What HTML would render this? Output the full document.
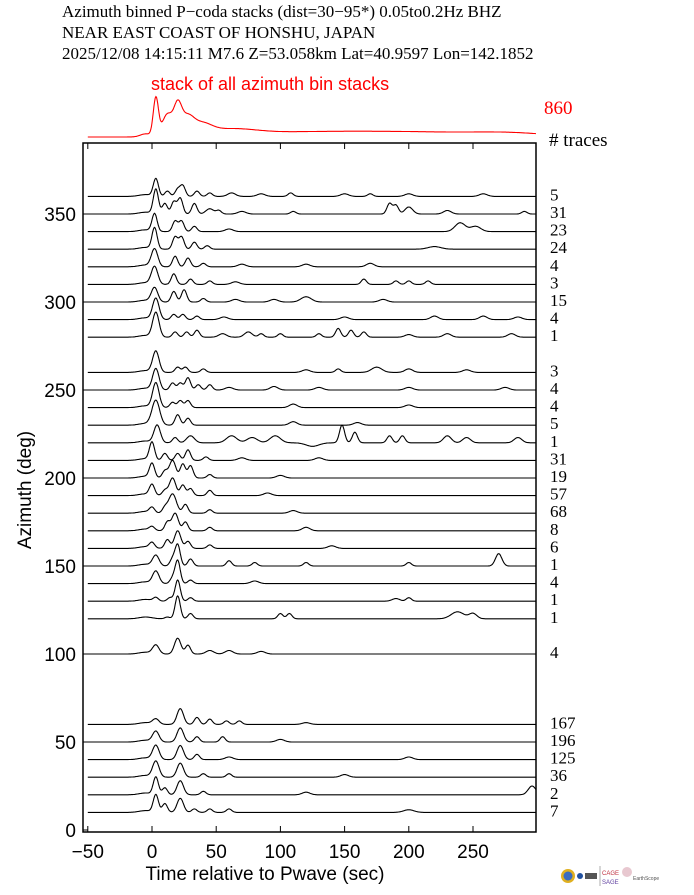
<!DOCTYPE html>
<html><head><meta charset="utf-8">
<style>
html,body{margin:0;padding:0;background:#fff;}
svg{display:block;}
.serif{font-family:"Liberation Serif",serif;}
.sans{font-family:"Liberation Sans",sans-serif;}
</style></head>
<body>
<svg id="chart" width="694" height="895" viewBox="0 0 694 895">
<g class="serif" font-size="17" fill="#000">
<text x="62" y="17">Azimuth binned P−coda stacks (dist=30−95*)  0.05to0.2Hz  BHZ</text>
<text x="62" y="38">NEAR EAST COAST OF HONSHU, JAPAN</text>
<text x="62" y="59">2025/12/08  14:15:11  M7.6  Z=53.058km Lat=40.9597 Lon=142.1852</text>
</g>
<text class="sans" x="151" y="90" font-size="18" fill="#f00">stack of all azimuth bin stacks</text>
<text class="serif" x="544" y="114" font-size="19" fill="#f00">860</text>
<text class="serif" x="549" y="146" font-size="19" fill="#000"># traces</text>
<rect x="83" y="143" width="453" height="689" fill="none" stroke="#000" stroke-width="1.5"/>
<g id="axes"></g>
<g id="traces"></g>
<text class="sans" x="265" y="880" font-size="19" text-anchor="middle">Time relative to Pwave (sec)</text>
<text class="sans" transform="translate(31,490) rotate(-90)" font-size="19" text-anchor="middle">Azimuth (deg)</text>
<g>
<circle cx="568" cy="876" r="7" fill="#e0b020"/>
<circle cx="568" cy="876" r="4.5" fill="#3a6cc0"/>
<circle cx="580" cy="876" r="3" fill="#2050a0"/>
<rect x="585" y="873" width="12" height="6" fill="#555"/>
<line x1="600" y1="866" x2="600" y2="886" stroke="#777" stroke-width="0.6"/>
<text class="sans" x="602" y="875" font-size="6" fill="#c03040">CAGE</text>
<text class="sans" x="602" y="884" font-size="6" fill="#6040a0">SAGE</text>
<circle cx="627" cy="872" r="5" fill="#e8c8d0"/>
<text class="sans" x="633" y="880" font-size="5" fill="#555">EarthScope</text>
</g>
</svg>
<script>
// ---- data ----
const xTicks = [-50, 0, 50, 100, 150, 200, 250];
const yTicks = [0, 50, 100, 150, 200, 250, 300, 350];
const azimuths = [360,350,340,330,320,310,300,290,280,260,250,240,230,220,210,200,190,180,170,160,150,140,130,120,100,60,50,40,30,20,10];
const traceCounts = [5,31,23,24,4,3,15,4,1,3,4,4,5,1,31,19,57,68,8,6,1,4,1,1,4,167,196,125,36,2,7];
// peaks per trace: [time sec, amplitude deg, width sec]
const tracePeaks = [
 [[-5,1,5],[3,10,2],[12,3,2],[20,4,2],[24,6,2],[35,3,2],[45,2,2],[62,2,3],[85,1.5,3],[108,2,2],[150,1.5,3],[170,1.5,2],[200,1.5,3],[258,1.5,3]],
 [[-5,1,5],[3,14,2],[10,6,2],[17,7,2],[22,9,2],[33,6,2],[45,3,3],[52,2,2],[70,1.5,3],[110,1.5,2],[185,6,2],[190,5,2],[200,4,3],[230,2,3],[290,1.5,2]],
 [[-5,1,5],[2,10,2],[18,6,2],[23,6,2],[33,3,2],[60,1.5,3],[240,5,4],[252,3,4]],
 [[-5,1,5],[2,12,2],[18,7,2],[23,7,2],[33,4,2],[43,2,2],[220,1.5,5]],
 [[-5,1,5],[2,10,2.5],[18,6,2],[28,5,2],[40,2,2],[70,1.5,3],[120,1.5,3],[170,2,3]],
 [[-5,1,5],[2,10,2.5],[17,6,2],[30,3,2],[45,2,2],[65,1.5,3],[165,3,2],[190,2,2],[200,2,2],[215,2,2]],
 [[-5,1,5],[2,8,2.5],[17,6,2],[25,7,2],[40,2,2],[65,1.5,3],[95,1.5,3],[120,3,4],[180,1.5,3]],
 [[-5,1,5],[3,12,2.5],[17,3,2],[24,3,2],[35,2,2],[56,1.5,3],[150,1.5,3],[220,2,3],[258,2,3],[285,1.5,3]],
 [[-5,1,5],[3,14,2.5],[18,3,2],[27,3,2],[35,4,2],[55,2,3],[75,3,3],[85,2,2],[100,2,2],[130,2,2],[145,5,2],[155,4,2],[165,3,2],[200,1.5,3],[230,2,3],[280,2,3]],
 [[-5,1,5],[3,12,2.5],[20,3,2],[26,3,2],[40,2,2],[120,1.5,3],[145,2,2],[175,3,4],[200,2,3],[245,1.5,3]],
 [[-5,1,5],[3,12,2.5],[16,4,2],[22,4,2],[28,7,2],[36,3,2],[45,3,2],[60,1.5,3],[95,2,3],[130,1.5,3],[200,1.5,3],[275,1.5,3]],
 [[-5,1,5],[3,14,2.5],[16,3,2],[22,4,2],[28,4,2],[110,2,3],[200,1.5,3]],
 [[-5,1,5],[3,14,3],[20,6,2],[28,4,2],[110,2,3],[160,1.5,3]],
 [[-5,1,5],[4,10,2.5],[18,3,2],[30,4,3],[62,4,4],[78,3,4],[96,4,4],[125,-2,5],[148,10,2],[158,6,2],[185,4,2],[195,4,2],[230,4,3],[245,3,3],[285,3,3]],
 [[-5,1,5],[0,10,2],[10,4,2],[20,4,2],[28,6,2],[42,2,2],[70,1.5,3],[130,1.5,3]],
 [[-5,1,5],[0,8,2],[10,4,2],[16,10,2.5],[24,8,2],[30,7,2],[45,2,2],[100,1.5,3]],
 [[-5,1,5],[0,6,2],[10,3,2],[16,10,2.5],[24,6,2],[30,4,2],[45,3,2],[90,1.5,3]],
 [[-5,1,5],[0,3,2],[10,3,2],[16,11,3],[26,5,2],[45,2,2],[110,1.5,3]],
 [[-5,1,5],[0,2,2],[12,5,2],[18,10,2.5],[26,5,2],[45,2,2],[120,2,3]],
 [[-5,1,5],[0,3,2],[12,5,2],[20,10,2.5],[28,4,2],[45,2,2],[140,1.5,3]],
 [[-5,1,5],[3,6,2.5],[16,4,2],[20,12,2],[30,4,2],[60,3,2],[80,2,2],[120,2,2],[200,2,2],[270,7,2.5]],
 [[-5,1,5],[3,7,2.5],[16,3,2],[20,13,2],[30,2,2],[80,1.5,3]],
 [[-5,1,5],[3,2,2],[14,2,2],[20,12,2],[30,2,2],[190,1.5,3],[200,2,2]],
 [[-5,1,5],[12,1,2],[20,13,2],[30,3,2],[100,3,2],[107,3,2],[238,4,5],[250,3,3]],
 [[-5,1,5],[3,5,2.5],[20,9,2.5],[28,5,2],[45,2,3],[60,2,3],[85,1.5,3]],
 [[-5,1,5],[3,3,2.5],[22,9,2.5],[35,4,2],[45,3,2],[58,2,2],[68,2,2],[120,1,3]],
 [[-5,1,5],[3,6,2.5],[22,8,2.5],[35,3,2],[55,3,2],[100,1.5,3]],
 [[-5,1,5],[3,8,2.5],[22,8,2.5],[35,3,2],[60,1.5,3],[200,1.5,3]],
 [[-5,1,5],[3,9,2.5],[22,8,2.5],[40,2,2],[60,2,2],[150,1.5,3]],
 [[-5,1,5],[3,10,2],[10,4,2],[22,8,2.5],[40,2,2],[120,1.5,3],[296,5,3]],
 [[-5,1,5],[3,10,2],[10,5,2],[22,8,2.5],[33,2,2],[45,2,2],[60,2,2],[200,1.5,4]]
];
// red stack peaks: [time sec, amplitude px, width sec]
const stackPeaks = [[-5,3,4],[3,38,2],[12,22,4],[20,26,3],[27,16,5],[38,10,8],[60,6,20],[100,3.5,40],[160,3.5,40],[220,3.5,40],[280,3.5,30]];

// ---- axes ----
const tMin=-50, tMax=299;
function xs(t){return 152 + (t-0)*1.284;}
function ys(a){return 830 - a*1.76;}
const NS='http://www.w3.org/2000/svg';
const axes=document.getElementById('axes');
const tr=document.getElementById('traces');
function mk(tag,attrs,parent){const e=document.createElementNS(NS,tag);for(const k in attrs)e.setAttribute(k,attrs[k]);parent.appendChild(e);return e;}

xTicks.forEach(t=>{
  const x=xs(t);
  const l1=mk('line',{x1:x,y1:832,x2:x,y2:826,stroke:'#000','stroke-width':1},axes);
  
  
  const l2=mk('line',{x1:x,y1:143,x2:x,y2:149,stroke:'#000','stroke-width':1},axes);
  
  
  const tx=mk('text',{x:x,y:858,'font-size':19,'text-anchor':'middle','font-family':'Liberation Sans, sans-serif'},axes);
  tx.textContent=(t<0?'−'+Math.abs(t):String(t));
  
  
});
yTicks.forEach(a=>{
  const y=ys(a);
  const l=mk('line',{x1:83,y1:y,x2:88,y2:y,stroke:'#000','stroke-width':1},axes);
  
  
  const tx=mk('text',{x:76,y:y+7,'font-size':19,'text-anchor':'end','font-family':'Liberation Sans, sans-serif'},axes);
  tx.textContent=String(a);
  
  
});

function pathFor(peaks,baseY,scale){
  let d='';
  for(let t=tMin;t<=tMax;t+=0.5){
    let v=0;
    for(const p of peaks){const z=(t-p[0])/p[2];v+=p[1]*Math.exp(-0.5*z*z);}
    d+=(d?'L':'M')+xs(t).toFixed(1)+' '+(baseY-v*scale).toFixed(1);
  }
  return d;
}
azimuths.forEach((az,i)=>{
  const by=ys(az);
  const p=mk('path',{d:pathFor(tracePeaks[i],by,1.76),fill:'none',stroke:'#000','stroke-width':1.1},tr);
  
  
  const tx=mk('text',{x:550,y:by+4,'font-size':17,'font-family':'Liberation Serif, serif'},tr);
  tx.textContent=String(traceCounts[i]);
  
  
});
const sp=mk('path',{d:pathFor(stackPeaks,137,1),fill:'none',stroke:'#f00','stroke-width':1.1},tr);


</script>
</body></html>
